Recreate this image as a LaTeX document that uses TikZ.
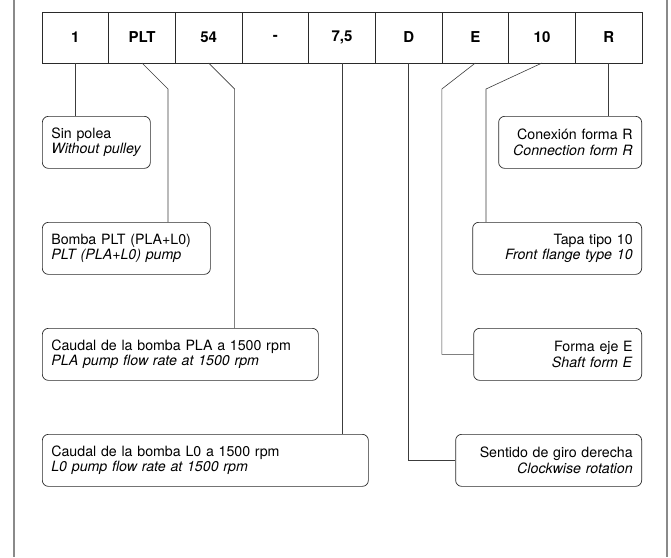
\documentclass[tikz,border=0pt]{standalone}
\usepackage{fontspec}
\setmainfont{TeX Gyre Heros}
\usepackage{xcolor}
\usetikzlibrary{positioning,calc}
\definecolor{bk90}{HTML}{2A2A2A}
\definecolor{bk70}{HTML}{3C3C3C}
\definecolor{bk50}{HTML}{8A8A8A}
\tikzset{
  codecell/.style={
    rectangle, draw=bk90, line width=0.7pt,
    minimum width=66.67pt, minimum height=51pt,
    outer sep=0pt, inner sep=0pt,
    font=\fontsize{15}{17}\selectfont\bfseries
  },
  infobox/.style={
    rectangle, rounded corners=6pt, draw=bk90, line width=0.7pt,
    minimum height=52pt, text width=#1, inner xsep=9pt,
    align=left, font=\fontsize{14.2}{15.5}\selectfont
  },
  infobox/.default=90pt,
  inforbox/.style={
    infobox=#1, align=right
  },
  inforbox/.default=125pt,
  leader/.style={
    line width=0.6pt, color=bk70
  },
  framebar/.style={
    line width=1.6pt, color=bk50
  },
}
\begin{document}
\begin{tikzpicture}[x=1pt,y=-1pt]
\useasboundingbox (0,0) rectangle (671,557);

% side rules of the page frame
\draw[framebar] (14,0) -- (14,557);
\draw[framebar] (667,0) -- (667,557);

% code row
\node[codecell] (c1) at (75.33,37.5) {1};
\node[codecell, right=0pt of c1] (c2) {PLT};
\node[codecell, right=0pt of c2] (c3) {54};
\node[codecell, right=0pt of c3] (c4) {-};
\node[codecell, right=0pt of c4] (c5) {7,5};
\node[codecell, right=0pt of c5] (c6) {D};
\node[codecell, right=0pt of c6] (c7) {E};
\node[codecell, right=0pt of c7] (c8) {10};
\node[codecell, right=0pt of c8] (c9) {R};

% left descriptions
\node[infobox=90pt, anchor=north west] (sin) at (42,116)
  {Sin polea\\\textit{Without pulley}};
\node[infobox=150pt, anchor=north west] (bomba) at (42,222)
  {Bomba PLT (PLA+L0)\\\textit{PLT (PLA+L0) pump}};
\node[infobox=258pt, anchor=north west] (caudala) at (42,328)
  {Caudal de la bomba PLA a 1500 rpm\\\textit{PLA pump flow rate at 1500 rpm}};
\node[infobox=308pt, anchor=north west] (caudalb) at (42,434)
  {Caudal de la bomba L0 a 1500 rpm\\\textit{L0 pump flow rate at 1500 rpm}};

% right descriptions
\node[inforbox=125pt, anchor=north east] (conexion) at (642,116)
  {Conexión forma R\\\textit{Connection form R}};
\node[inforbox=151pt, anchor=north east] (tapa) at (642,222)
  {Tapa tipo 10\\\textit{Front flange type 10}};
\node[inforbox=150pt, anchor=north east] (forma) at (642,328)
  {Forma eje E\\\textit{Shaft form E}};
\node[inforbox=168pt, anchor=north east] (sentido) at (642,434)
  {Sentido de giro derecha\\\textit{Clockwise rotation}};

% leaders
\draw[leader] (c1.south) -- (c1.south |- sin.north);
\draw[leader] (c2.south) -- ++(26,26) coordinate (k2) -- (k2 |- bomba.north);
\draw[leader] (c3.south) -- ++(26,26) coordinate (k3) -- (k3 |- caudala.north);
\draw[leader] (c5.south) -- (c5.south |- caudalb.north);
\draw[leader] (c6.south) |- (sentido.west);
\draw[leader] (c7.south) -- ++(-33.5,26) |- (forma.west);
\draw[leader] (c8.south) -- ++(-56,26) coordinate (k8) -- (k8 |- tapa.north);
\draw[leader] (c9.south) -- (c9.south |- conexion.north);

\end{tikzpicture}
\end{document}
